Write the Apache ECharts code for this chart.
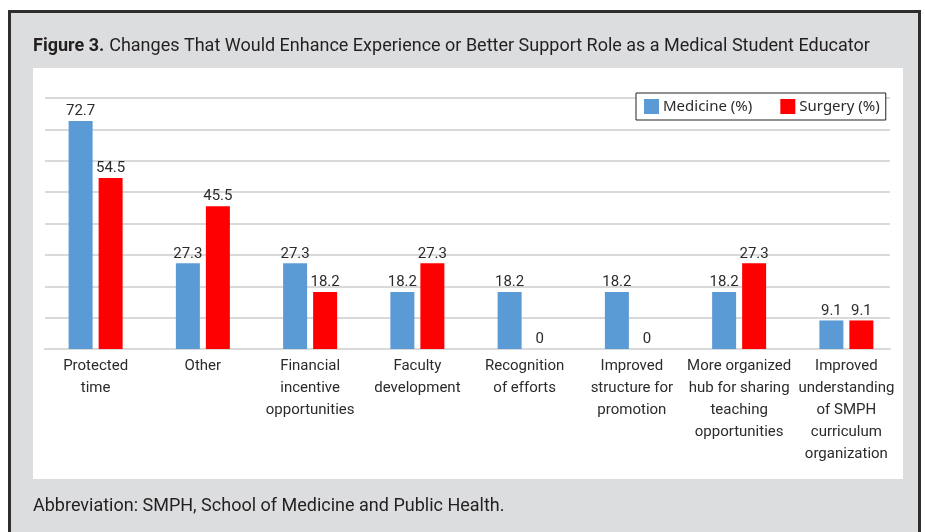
<!DOCTYPE html>
<html>
<head>
<meta charset="utf-8">
<script src="https://cdn.jsdelivr.net/npm/echarts@6/dist/echarts.min.js"></script>
<style>
html,body{margin:0;padding:0;background:#fff;}
#c{width:925px;height:532px;}
</style>
</head>
<body>
<div id="c"></div>
<script>
var categories = [
  'Protected\ntime',
  'Other',
  'Financial\nincentive\nopportunities',
  'Faculty\ndevelopment',
  'Recognition\nof efforts',
  'Improved\nstructure for\npromotion',
  'More organized\nhub for sharing\nteaching\nopportunities',
  'Improved\nunderstanding\nof SMPH\ncurriculum\norganization'
];
var seriesNames = ['Medicine (%)', 'Surgery (%)'];
var medicine = [72.7, 27.3, 27.3, 18.2, 18.2, 18.2, 18.2, 9.1];
var surgery = [54.5, 45.5, 18.2, 27.3, 0, 0, 27.3, 9.1];
var yTicks = [0, 10, 20, 30, 40, 50, 60, 70, 80];
var titleBold = 'Figure 3.';
var titleText = 'Changes That Would Enhance Experience or Better Support Role as a Medical Student Educator';
var footerText = 'Abbreviation: SMPH, School of Medicine and Public Health.';

var chart = echarts.init(document.getElementById('c'), null, {renderer: 'canvas'});
var FONT = 'Roboto, "Liberation Sans", sans-serif';
var labelStyle = {show: true, position: 'top', distance: 2, color: '#2b2b2b', fontSize: 15, fontFamily: FONT};
var yMin = yTicks[0], yMax = yTicks[yTicks.length - 1], yInt = yTicks[1] - yTicks[0];
chart.setOption({
  backgroundColor: '#ffffff',
  animation: false,
  graphic: [
    {type: 'rect', z: -10, silent: true,
     shape: {x: 9.5, y: 11.5, width: 910, height: 540},
     style: {fill: '#dcdddf', stroke: '#2e2e2e', lineWidth: 3}},
    {type: 'rect', z: -9, silent: true,
     shape: {x: 33, y: 68, width: 870, height: 411},
     style: {fill: '#ffffff'}}
  ],
  title: [
    {left: 33, top: 37, padding: 0,
     text: '{b|' + titleBold + '} {n|' + titleText + '}',
     textStyle: {rich: {
       b: {fontWeight: 'bold', fontSize: 18, color: '#231f20', fontFamily: FONT},
       n: {fontWeight: 'normal', fontSize: 18, color: '#231f20', fontFamily: FONT}
     }}},
    {left: 33, top: 497, padding: 0, text: footerText,
     textStyle: {fontWeight: 'normal', fontSize: 18, color: '#231f20', fontFamily: FONT}}
  ],
  legend: {
    data: seriesNames,
    left: 636, top: 93,
    orient: 'horizontal',
    backgroundColor: '#ffffff',
    borderColor: '#222',
    borderWidth: 1,
    padding: [6, 6, 6, 8],
    itemWidth: 15, itemHeight: 15, itemGap: 28,
    icon: 'rect',
    textStyle: {fontSize: 15, color: '#2b2b2b', fontFamily: '"Noto Sans", "Open Sans", sans-serif', padding: [0, 0, 0, -1]}
  },
  grid: [
    {left: 42, right: 25, top: 98, bottom: 183, containLabel: false},
    {left: 45, right: 35, top: 98, bottom: 183, containLabel: false}
  ],
  xAxis: [
    {type: 'category', gridIndex: 0, data: categories,
     axisLine: {show: false}, axisTick: {show: false},
     axisLabel: {interval: 0, margin: 6, fontSize: 15, lineHeight: 22, color: '#2b2b2b', fontFamily: FONT, verticalAlign: 'top'}},
    {type: 'category', gridIndex: 1, data: categories,
     axisLine: {show: true, lineStyle: {color: '#d9d9d9', width: 2}},
     axisTick: {show: false}, axisLabel: {show: false}}
  ],
  yAxis: [
    {type: 'value', gridIndex: 0, min: yMin, max: yMax, interval: yInt,
     axisLabel: {show: false}, axisLine: {show: false}, axisTick: {show: false},
     splitLine: {show: false}},
    {type: 'value', gridIndex: 1, min: yMin, max: yMax, interval: yInt,
     axisLabel: {show: false}, axisLine: {show: false}, axisTick: {show: false},
     splitLine: {show: true, lineStyle: {color: '#d9d9d9', width: 2}}}
  ],
  series: [
    {name: seriesNames[0], type: 'bar', xAxisIndex: 0, yAxisIndex: 0, data: medicine, barWidth: 24, barGap: '25%',
     itemStyle: {color: '#5b9bd5'}, label: labelStyle, z: 3},
    {name: seriesNames[1], type: 'bar', xAxisIndex: 0, yAxisIndex: 0, data: surgery, barWidth: 24, barGap: '25%',
     itemStyle: {color: '#ff0000'}, label: labelStyle, z: 3}
  ]
});
</script>
</body>
</html>
